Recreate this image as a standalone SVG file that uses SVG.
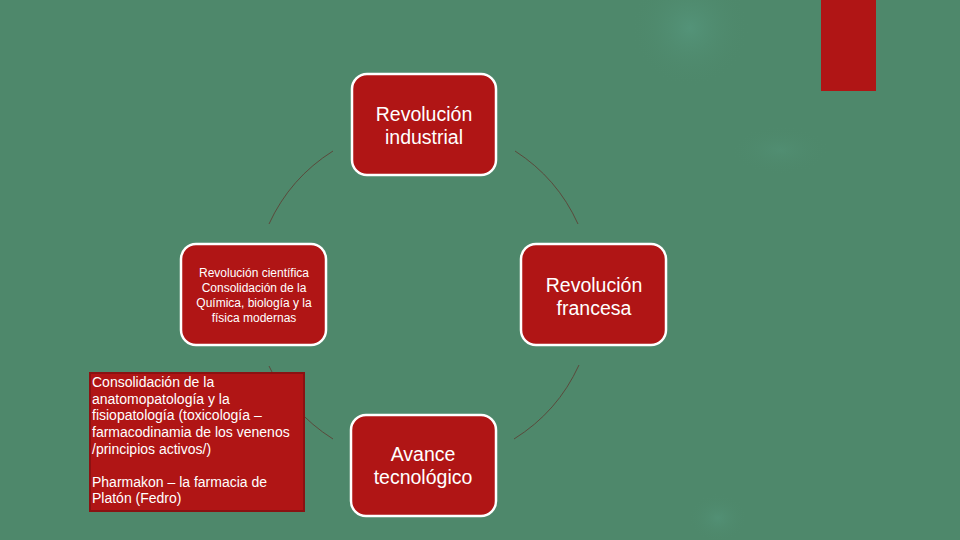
<svg xmlns="http://www.w3.org/2000/svg" width="960" height="540" viewBox="0 0 960 540">
<style>
.node{fill:#B01515;stroke:#FFFFFF;stroke-width:2.5}
.t{font-family:"Liberation Sans",Arial,sans-serif;fill:#FFFFFF;text-anchor:middle}
.big{font-size:19.5px}
.small{font-size:12px}
.box{fill:#B01515;stroke:#8A1212;stroke-width:2}
.bt{font-family:"Liberation Sans",Arial,sans-serif;fill:#FFFFFF;font-size:14px}
.arc{fill:none;stroke:#5A4A3C;stroke-width:1}
</style>
<defs>
<radialGradient id="glow">
<stop offset="0" stop-color="#55967C" stop-opacity="0.8"/>
<stop offset="1" stop-color="#4E886B" stop-opacity="0"/>
</radialGradient>
</defs>
<rect width="960" height="540" fill="#4E886B"/>
<circle cx="690" cy="28" r="60" fill="url(#glow)"/>
<ellipse cx="780" cy="150" rx="50" ry="25" fill="url(#glow)" opacity="0.5"/>
<ellipse cx="718" cy="518" rx="30" ry="25" fill="url(#glow)" opacity="0.7"/>
<rect x="821" y="0" width="55" height="91" fill="#B01515"/>
<g id="connectors">
<path class="arc" d="M 333 151 A 170 170 0 0 0 269 224"/>
<path class="arc" d="M 515 151 A 170 170 0 0 1 578 224"/>
<path class="arc" d="M 579 365 A 170 170 0 0 1 514 439"/>
<path class="arc" d="M 333 439 A 170 170 0 0 1 269 366"/>
</g>
<g id="industrial">
<rect class="node" x="352" y="74" width="144" height="101" rx="15"/>
<text class="t big" x="424" y="121">Revolución</text>
<text class="t big" x="424" y="144">industrial</text>
</g>
<g id="francesa">
<rect class="node" x="521" y="244" width="145" height="101" rx="15"/>
<text class="t big" x="594" y="292">Revolución</text>
<text class="t big" x="594" y="315">francesa</text>
</g>
<g id="tecnologico">
<rect class="node" x="351" y="415" width="145" height="101" rx="15"/>
<text class="t big" x="423" y="461">Avance</text>
<text class="t big" x="423" y="484">tecnológico</text>
</g>
<g id="cientifica">
<rect class="node" x="181" y="244" width="145" height="101" rx="15"/>
<text class="t small" x="254" y="277">Revolución científica</text>
<text class="t small" x="254" y="292">Consolidación de la</text>
<text class="t small" x="254" y="307">Química, biología y la</text>
<text class="t small" x="254" y="322">física modernas</text>
</g>
<g id="nota">
<rect class="box" x="90" y="373" width="214" height="138"/>
<text class="bt" x="92" y="387">Consolidación de la</text>
<text class="bt" x="92" y="404">anatomopatología y la</text>
<text class="bt" x="92" y="420">fisiopatología (toxicología –</text>
<text class="bt" x="92" y="437">farmacodinamia de los venenos</text>
<text class="bt" x="92" y="454">/principios activos/)</text>
<text class="bt" x="92" y="487">Pharmakon – la farmacia de</text>
<text class="bt" x="92" y="503">Platón (Fedro)</text>
</g>
</svg>
